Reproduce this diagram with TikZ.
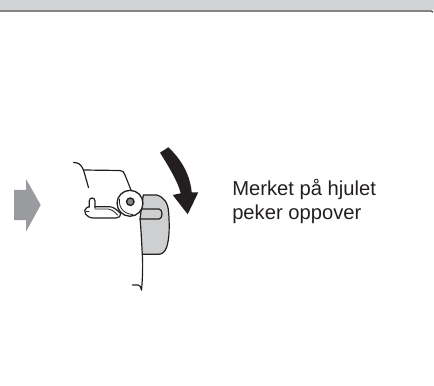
\documentclass[tikz,border=0pt]{standalone}
\usepackage{fontspec}
\setmainfont{Liberation Sans}
\usepackage{tikz}
\definecolor{BandGray}{HTML}{D1D2D4}
\definecolor{PlateGray}{HTML}{CDCFD1}
\definecolor{PointerGray}{HTML}{9A9B9E}
\definecolor{InkDark}{HTML}{231F20}
\begin{document}
\begin{tikzpicture}[x=0.0264583cm,y=-0.0264583cm,
 ink/.style={draw=InkDark,line width=0.9pt,line join=round,line cap=round},
 label/.style={anchor=north west,inner sep=0pt,align=left,text=InkDark,
 font=\fontsize{15.2}{18}\selectfont}]
\useasboundingbox (0,0) rectangle (434,386);
% band at the top
\fill[BandGray] (0,0) rectangle (434,10.5);
\draw[InkDark!85,line width=0.9pt] (0,11) -- (431,11) -- (433,12);
% pointer on the left
\fill[PointerGray] (14,190) -- (26,190) -- (26,179) -- (40.7,205) -- (26,231.7) -- (26,220) -- (14,220) -- cycle;
% plate behind the wheel
\draw[ink,fill=PlateGray] (143.3,195) -- (156.7,195) .. controls (164,197) and (168,203) .. (168.6,212)
 .. controls (169.6,225) and (169.6,238) .. (166.7,247) .. controls (165,252) and (162,254.3) .. (158.3,254.3)
 -- (142.3,254.3) .. controls (141.5,240) and (141,228) .. (140,219) -- cycle;
% slot in the plate
\draw[ink] (141.7,209) -- (159,209) .. controls (163,209) and (163,219) .. (159,219) -- (140,219);
% cable
\draw[ink] (142.3,254.3) .. controls (143,265) and (142.5,280) .. (141.5,290);
\draw[ink] (132.5,285) -- (138,285) .. controls (140,285) and (141,287) .. (141.5,290);
% cord on top
\draw[ink] (73.5,162.5) .. controls (78,162.5) and (81,164) .. (83.5,170) -- (88.5,187.5);
\draw[ink] (83.5,170) -- (120,170.5) .. controls (123,171) and (124,172) .. (125,175) -- (131,190);
% bracket and pin
\draw[ink] (89.3,207) -- (89.3,201) .. controls (89.3,197) and (95,197) .. (95,201) -- (95,208);
\draw[ink] (89.3,206.7) -- (87,207.5) .. controls (84.5,208.5) and (84,212) .. (85.5,214)
 .. controls (87,216.5) and (90,218) .. (94,218) -- (116,218) .. controls (119,218) and (121,216) .. (120.7,213.5)
 .. controls (116,209) and (113,206.7) .. (109,206.7) -- (95,206.7);
\draw[ink,line width=0.6pt] (95,209) -- (108,209) .. controls (112,209.5) and (115,212) .. (117.5,215);
\draw[ink,line width=0.6pt] (86,211) -- (89,211);
% wheel
\node[circle,draw=InkDark,fill=white,line width=1pt,minimum size=26*0.75pt,inner sep=0pt] (wheel) at (130,203.3) {};
\node[circle,draw=InkDark,fill=InkDark!55,line width=1pt,minimum size=7.5*0.75pt,inner sep=0pt] (mark) at (130.3,201.7) {};
\draw[ink,line width=0.6pt] (119.5,199) .. controls (118.5,208) and (124,214) .. (133,214.5);
% arrow for the turning direction
\fill[InkDark] (160,152.7) -- (168.3,147.3) .. controls (182,160) and (190,175) .. (191.7,192.3)
 -- (198.3,192.3) -- (187.7,214.3) -- (172.7,195) -- (180.7,193.3) .. controls (178,182) and (169,167) .. (160,152.7) -- cycle;
% text
\node[label] (caption) at (232,179) {Merket på hjulet\\peker oppover};
\end{tikzpicture}
\end{document}
